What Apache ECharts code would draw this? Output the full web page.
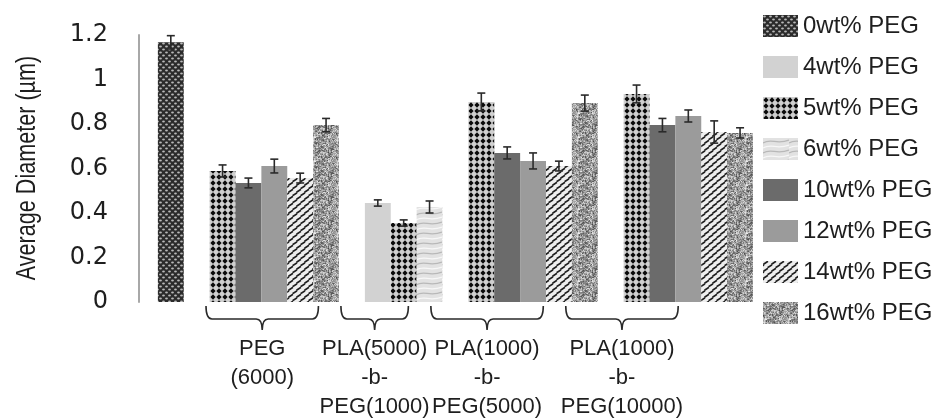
<!DOCTYPE html>
<html>
<head>
<meta charset="utf-8">
<script src="https://cdn.jsdelivr.net/npm/echarts@6/dist/echarts.min.js"></script>
<style>
  html, body { margin: 0; padding: 0; background: #fff; }
  #box1 { width: 945px; height: 418px; }
</style>
</head>
<body>
<div id="box1"></div>
<script>
// legend / series names
var legendNames = ['0wt% PEG', '4wt% PEG', '5wt% PEG', '6wt% PEG', '10wt% PEG', '12wt% PEG', '14wt% PEG', '16wt% PEG'];

// groups of bars, left to right
var groupLabels = ['', 'PEG\n(6000)', 'PLA(5000)\n-b-\nPEG(1000)', 'PLA(1000)\n-b-\nPEG(5000)', 'PLA(1000)\n-b-\nPEG(10000)'];
var groupMembers = [
    ['0wt% PEG'],
    ['5wt% PEG', '10wt% PEG', '12wt% PEG', '14wt% PEG', '16wt% PEG'],
    ['4wt% PEG', '5wt% PEG', '6wt% PEG'],
    ['5wt% PEG', '10wt% PEG', '12wt% PEG', '14wt% PEG', '16wt% PEG'],
    ['5wt% PEG', '10wt% PEG', '12wt% PEG', '14wt% PEG', '16wt% PEG']
];

// average diameter (um) and error per group
var pureMean = [1.167];
var pureErr = [0.03];
var peg6000Mean = [0.589, 0.535, 0.611, 0.557, 0.795];
var peg6000Err = [0.027, 0.022, 0.031, 0.022, 0.03];
var pla5000Mean = [0.445, 0.355, 0.427];
var pla5000Err = [0.014, 0.014, 0.027];
var peg5000Mean = [0.899, 0.67, 0.634, 0.611, 0.894];
var peg5000Err = [0.04, 0.027, 0.036, 0.022, 0.036];
var peg10000Mean = [0.935, 0.795, 0.836, 0.764, 0.76];
var peg10000Err = [0.04, 0.03, 0.027, 0.05, 0.023];

var yTicks = [0, 0.2, 0.4, 0.6, 0.8, 1, 1.2];
var yTitle = 'Average Diameter (µm)';

var groupMeans = [pureMean, peg6000Mean, pla5000Mean, peg5000Mean, peg10000Mean];
var groupErrs = [pureErr, peg6000Err, pla5000Err, peg5000Err, peg10000Err];

// one empty slot in front of every group
var slots = [];
var errData = [];
var braceData = [];
groupMembers.forEach(function (names, g) {
    slots.push(null);
    var first = slots.length;
    names.forEach(function (n, i) {
        var s = slots.length;
        slots.push({ name: n, value: groupMeans[g][i] });
        errData.push([s, groupMeans[g][i] - groupErrs[g][i], groupMeans[g][i] + groupErrs[g][i]]);
    });
    if (groupLabels[g]) braceData.push([first, slots.length - 1, g]);
});
var categories = slots.map(function (s, i) { return String(i); });

// ---- fill patterns ----
function tile(w, h, draw) {
    var c = document.createElement('canvas');
    c.width = w; c.height = h;
    draw(c.getContext('2d'), w, h);
    return { image: c, repeat: 'repeat' };
}
function hash(x, y, k) {
    var v = Math.sin(x * 12.9898 + y * 78.233 + k * 37.719) * 43758.5453;
    return v - Math.floor(v);
}
var patterns = {
    '0wt% PEG': tile(6, 6, function (ctx) {
        ctx.fillStyle = '#2b2b2b'; ctx.fillRect(0, 0, 6, 6);
        ctx.fillStyle = '#b9b9b9';
        [[1.5, 1.5], [4.5, 4.5]].forEach(function (p) {
            ctx.beginPath(); ctx.ellipse(p[0], p[1], 1.4, 1.0, 0, 0, Math.PI * 2); ctx.fill();
        });
    }),
    '4wt% PEG': '#d2d2d2',
    '5wt% PEG': tile(6, 6, function (ctx) {
        ctx.fillStyle = '#cfcfcf'; ctx.fillRect(0, 0, 6, 6);
        ctx.fillStyle = '#0a0a0a';
        ctx.beginPath(); ctx.moveTo(3, 0.3); ctx.lineTo(5.6, 3); ctx.lineTo(3, 5.7); ctx.lineTo(0.4, 3); ctx.closePath(); ctx.fill();
    }),
    '6wt% PEG': tile(26, 30, function (ctx) {
        ctx.fillStyle = '#e2e2e2'; ctx.fillRect(0, 0, 26, 30);
        ctx.lineWidth = 1.2;
        for (var i = 0; i < 6; i++) {
            ctx.strokeStyle = i % 2 ? '#f7f7f7' : '#b8b8b8';
            var y = i * 5 + 2;
            ctx.beginPath(); ctx.moveTo(0, y + 3);
            ctx.bezierCurveTo(8, y - 2, 14, y + 5, 26, y);
            ctx.stroke();
        }
    }),
    '10wt% PEG': '#6b6b6b',
    '12wt% PEG': '#9b9b9b',
    '14wt% PEG': tile(8, 7, function (ctx) {
        ctx.fillStyle = '#eeeeee'; ctx.fillRect(0, 0, 8, 7);
        ctx.strokeStyle = '#1e1e1e'; ctx.lineWidth = 1.7;
        ctx.beginPath();
        ctx.moveTo(0.5, 3.2); ctx.lineTo(5, 0.3);
        ctx.moveTo(4.5, 6.7); ctx.lineTo(9, 3.8);
        ctx.moveTo(-3.5, 6.7); ctx.lineTo(1, 3.8);
        ctx.stroke();
    }),
    '16wt% PEG': tile(24, 24, function (ctx) {
        for (var x = 0; x < 24; x++) {
            for (var y = 0; y < 24; y++) {
                var v = Math.round(70 + 170 * (0.6 * hash(x, y, 1) + 0.4 * hash(x >> 1, y >> 1, 2)));
                ctx.fillStyle = 'rgb(' + v + ',' + v + ',' + v + ')';
                ctx.fillRect(x, y, 1, 1);
            }
        }
    })
};

var barSeries = legendNames.map(function (name) {
    return {
        name: name,
        type: 'bar',
        barGap: '-100%',
        barCategoryGap: '0%',
        itemStyle: { color: patterns[name] },
        data: slots.map(function (s) { return s && s.name === name ? s.value : '-'; }),
        z: 2
    };
});

var textFont = "'Liberation Sans', Arial, sans-serif";

var errorSeries = {
    type: 'custom',
    name: 'error',
    data: errData,
    encode: { x: 0, y: [1, 2] },
    z: 5,
    clip: false,
    renderItem: function (params, api) {
        var lo = api.coord([api.value(0), api.value(1)]);
        var hi = api.coord([api.value(0), api.value(2)]);
        var cap = 4;
        var st = { stroke: '#2a2a2a', lineWidth: 1.6 };
        return {
            type: 'group',
            children: [
                { type: 'line', shape: { x1: lo[0], y1: lo[1], x2: hi[0], y2: hi[1] }, style: st },
                { type: 'line', shape: { x1: lo[0] - cap, y1: lo[1], x2: lo[0] + cap, y2: lo[1] }, style: st },
                { type: 'line', shape: { x1: hi[0] - cap, y1: hi[1], x2: hi[0] + cap, y2: hi[1] }, style: st }
            ]
        };
    }
};

// braces under groups; the annotation layer in the figure is slightly compressed
var braceSeries = {
    type: 'custom',
    name: 'brace',
    data: braceData,
    encode: { x: [0, 1] },
    z: 5,
    clip: false,
    silent: true,
    renderItem: function (params, api) {
        var base = api.coord([0, 0]);
        var w = api.size([1, 0])[0];
        var map = function (e) { return 2.36 + 0.869 * (e - 2.5); };
        var px = function (i) { return base[0] + i * w; };
        var xs = px(map(api.value(0) - 0.5));
        var xe = px(map(api.value(1) + 0.5));
        var xm = (xs + xe) / 2;
        var y0 = base[1];
        var yt = y0 + 4, ym = y0 + 17, yb = y0 + 28, r = 6;
        var d = 'M' + xs + ',' + yt + ' Q' + xs + ',' + ym + ' ' + (xs + r) + ',' + ym +
            ' L' + (xm - r) + ',' + ym + ' Q' + xm + ',' + ym + ' ' + xm + ',' + yb +
            ' Q' + xm + ',' + ym + ' ' + (xm + r) + ',' + ym +
            ' L' + (xe - r) + ',' + ym + ' Q' + xe + ',' + ym + ' ' + xe + ',' + yt;
        return {
            type: 'group',
            children: [
                { type: 'path', shape: { pathData: d }, style: { stroke: '#2a2a2a', lineWidth: 1.6, fill: 'none' } },
                {
                    type: 'text',
                    style: {
                        text: groupLabels[api.value(2)],
                        x: xm, y: y0 + 32,
                        align: 'center', verticalAlign: 'top',
                        fontSize: 22, fontFamily: textFont, lineHeight: 29,
                        fill: '#1e1e1e'
                    }
                }
            ]
        };
    }
};

var myChart = echarts.init(document.getElementById('box1'));
var option = {
    animation: false,
    grid: { left: 132, right: 192, top: 35, bottom: 116 },
    // condensed axis title, as in the original figure
    graphic: [{
        type: 'group',
        x: 28,
        y: 168,
        rotation: Math.PI / 2,
        children: [{
            type: 'text',
            scaleX: 0.8,
            style: { text: yTitle, fontSize: 27, fontFamily: textFont, fill: '#1e1e1e', align: 'center', verticalAlign: 'middle' }
        }]
    }],
    legend: {
        orient: 'vertical',
        left: 758,
        top: 9,
        icon: 'rect',
        itemWidth: 35,
        itemHeight: 22,
        itemGap: 17,
        selectedMode: false,
        data: legendNames,
        textStyle: { fontSize: 24, fontFamily: textFont, color: '#1e1e1e' }
    },
    xAxis: {
        type: 'category',
        data: categories,
        axisLine: { show: false },
        axisTick: { show: false },
        axisLabel: { show: false }
    },
    yAxis: {
        type: 'value',
        min: yTicks[0],
        max: yTicks[yTicks.length - 1],
        interval: 0.2,
        offset: -7,
        axisLine: { show: true, lineStyle: { color: '#a8a8a8', width: 2 } },
        axisTick: { show: false },
        splitLine: { show: false },
        axisLabel: { fontSize: 24, fontFamily: "'DejaVu Sans', sans-serif", color: '#1e1e1e', margin: 31 }
    },
    series: barSeries.concat([errorSeries, braceSeries])
};
myChart.setOption(option);
window.addEventListener('resize', function () {
    myChart.resize();
});
</script>
</body>
</html>
